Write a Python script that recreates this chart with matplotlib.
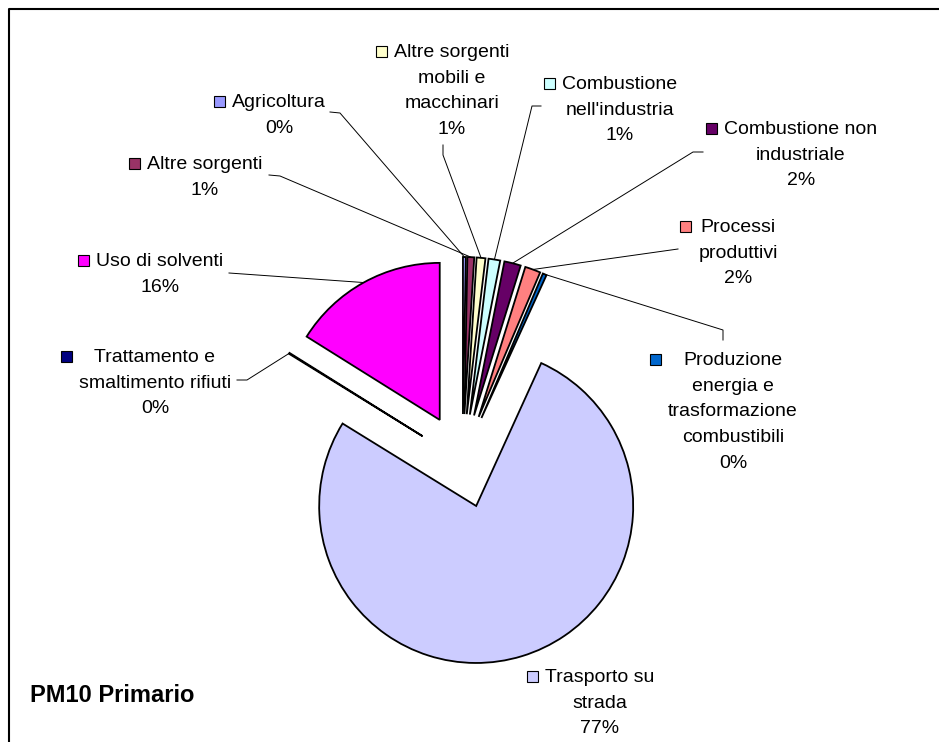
import matplotlib
matplotlib.use("Agg")
from matplotlib import pyplot as plt
from matplotlib.patches import Rectangle
import numpy as np

# ---- data ----
categories = [
    "Agricoltura",
    "Altre sorgenti",
    "Altre sorgenti mobili e macchinari",
    "Combustione nell'industria",
    "Combustione non industriale",
    "Processi produttivi",
    "Produzione energia e trasformazione combustibili",
    "Trasporto su strada",
    "Trattamento e smaltimento rifiuti",
    "Uso di solventi",
]
shares = [0.3, 0.7, 0.9, 1.2, 1.7, 1.6, 0.4, 77.0, 0.1, 16.1]
colors = ["#9999FF", "#993366", "#FFFFCC", "#CCFFFF", "#660066",
          "#FF8080", "#0066CC", "#CCCCFF", "#000080", "#FF00FF"]

# how the names are wrapped in the labels
wrapped = [
    ["Agricoltura"],
    ["Altre sorgenti"],
    ["Altre sorgenti", "mobili e", "macchinari"],
    ["Combustione", "nell'industria"],
    ["Combustione non", "industriale"],
    ["Processi", "produttivi"],
    ["Produzione", "energia e", "trasformazione", "combustibili"],
    ["Trasporto su", "strada"],
    ["Trattamento e", "smaltimento rifiuti"],
    ["Uso di solventi"],
]

# ---- layout (pixels, y from top) ----
W, H = 939, 742
pie_center = (462.5, 461)
pie_radius = 157
explode_px = 47

label_pos = [
    (279, 100), (205, 162), (452, 50), (620, 82), (801, 127),
    (738, 225), (733, 358), (600, 675), (155, 355), (160, 259),
]
leader_pts = [
    [(330, 112), (340, 113)],
    [(269, 175), (280, 176)],
    [(443, 145), (443, 155)],
    [(541, 106), (532, 106)],
    [(703, 152), (693, 152)],
    [(678, 249)],
    [(723, 340), (723, 330)],
    [],
    [(237, 380), (247, 380)],
    [(229, 273)],
]
line_step = 25.7
font = "Liberation Sans"


def flip(p):
    return (p[0], H - p[1])


fig = plt.figure(figsize=(W / 100, H / 100), dpi=100)
ax = fig.add_axes([0, 0, 1, 1])

wedges, _ = ax.pie(
    shares,
    colors=colors,
    startangle=90,
    counterclock=False,
    radius=pie_radius,
    center=flip(pie_center),
    explode=[explode_px] * len(shares),
    wedgeprops={"edgecolor": "black", "linewidth": 1.3},
)

ax.set_xlim(0, W)
ax.set_ylim(0, H)
ax.set_aspect("equal")
ax.axis("off")

# chart frame (only left and top edges are visible)
ax.plot([8.5, 8.5, W], [0, H - 9, H - 9], color="black", lw=1.5, clip_on=False)

# leader lines to the middle of each wedge's arc
for w, pts in zip(wedges, leader_pts):
    if not pts:
        continue
    mid = np.deg2rad((w.theta1 + w.theta2) / 2)
    end = (w.center[0] + w.r * np.cos(mid), w.center[1] + w.r * np.sin(mid))
    path = [flip(p) for p in pts] + [end]
    xs, ys = zip(*path)
    ax.plot(xs, ys, color="black", lw=0.7)

# labels
texts = []
for lines, share, (cx, cy) in zip(wrapped, shares, label_pos):
    group = []
    for i, line in enumerate(lines + [f"{round(share)}%"]):
        t = ax.text(cx, H - (cy + i * line_step) - 7, line, ha="center",
                    va="baseline", fontsize=14, family=font)
        group.append(t)
    texts.append(group)

fig.canvas.draw()
renderer = fig.canvas.get_renderer()
for group, col, (cx, cy) in zip(texts, colors, label_pos):
    left = min(t.get_window_extent(renderer).x0 for t in group)
    base = H - cy - 7
    ax.add_patch(Rectangle((left - 18, base), 11, 11, facecolor=col,
                           edgecolor="black", lw=0.8))

ax.text(30, H - 695, "PM10 Primario", ha="left", va="center",
        fontsize=17, fontweight="bold", family=font)

fig.savefig("out.png", dpi=100)
